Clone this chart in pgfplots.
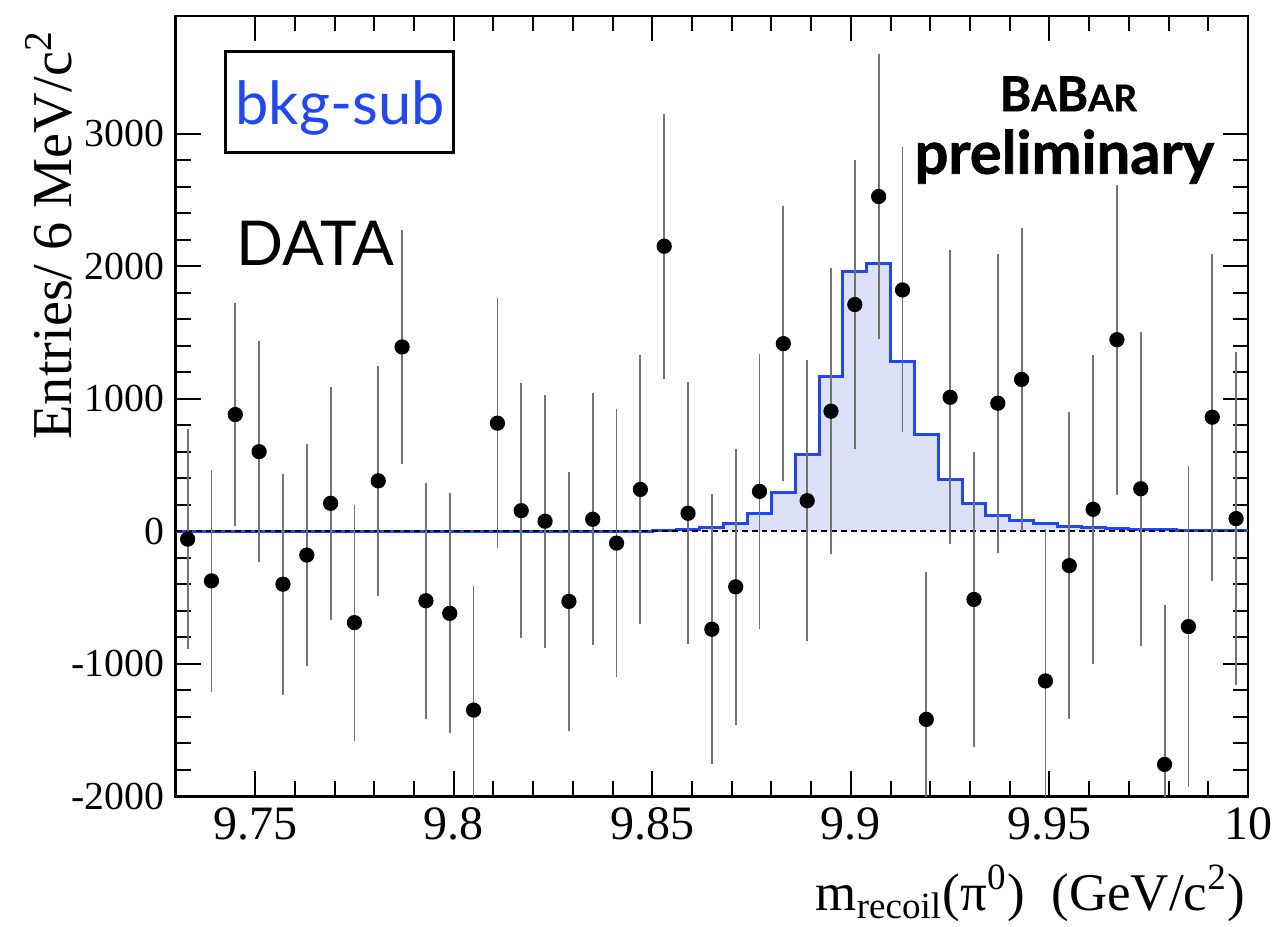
\documentclass[border=0pt]{standalone}
\usepackage{pgfplots}
\pgfplotsset{compat=1.18}
\usepackage{pgfplotstable}
\usepackage{fontspec}
\setmainfont{Liberation Serif}
\newfontfamily\gill{Lato}
\newfontfamily\gillheavy{Lato}[BoldFeatures={FakeBold=1.2}]
\definecolor{histblue}{RGB}{30,70,250}
\definecolor{histfill}{RGB}{220,225,247}

% background-subtracted data: bin centre, entries, error
\pgfplotstableread{
x      y      err
9.733  -60    830
9.739  -375   835
9.745  880    840
9.751  600    835
9.757  -400   835
9.763  -180   840
9.769  210    880
9.775  -690   890
9.781  380    870
9.787  1390   880
9.793  -525   890
9.799  -620   905
9.805  -1350  940
9.811  815    945
9.817  155    960
9.823  75     955
9.829  -530   980
9.835  90     950
9.841  -90    1010
9.847  315    1015
9.853  2150   1000
9.859  135    990
9.865  -740   1020
9.871  -420   1040
9.877  300    1040
9.883  1415   1040
9.889  230    1060
9.895  905    1080
9.901  1710   1090
9.907  2525   1075
9.913  1820   1075
9.919  -1420  1110
9.925  1010   1110
9.931  -515   1110
9.937  965    1130
9.943  1145   1140
9.949  -1130  1150
9.955  -260   1160
9.961  165    1165
9.967  1445   1170
9.973  320    1185
9.979  -1760  1200
9.985  -720   1210
9.991  860    1235
9.997  95     1255
}\datatab

% signal shape: left bin edge, content
\pgfplotstableread{
x      y
9.730  0
9.850  3
9.856  10
9.862  25
9.868  55
9.874  130
9.880  290
9.886  580
9.892  1170
9.898  1960
9.904  2020
9.910  1280
9.916  730
9.922  390
9.928  210
9.934  120
9.940  78
9.946  55
9.952  38
9.958  27
9.964  19
9.970  13
9.976  9
9.982  7
9.988  5
9.994  4
10.000 4
}\histtab

\begin{document}
\begin{tikzpicture}
\begin{axis}[
    width=324pt, height=235.8pt, scale only axis,
    xmin=9.73, xmax=10, ymin=-2000, ymax=3888,
    axis line style={line width=0.8pt},
    xtick={9.75,9.8,9.85,9.9,9.95,10},
    xticklabels={9.75,9.8,9.85,9.9,9.95,10},
    minor x tick num=4,
    ytick={-2000,-1000,0,1000,2000,3000},
    yticklabels={-2000,-1000,0,1000,2000,3000},
    minor y tick num=4,
    major tick length=7.5pt, minor tick length=4.5pt,
    every tick/.style={line width=0.6pt, black},
    x tick label style={font=\fontsize{14.5}{15}\selectfont},
    y tick label style={font=\fontsize{12}{13}\selectfont},
    xlabel={m\textsubscript{recoil}(π\textsuperscript{0})\ \ (GeV/c\textsuperscript{2})},
    ylabel={Entries/ 6 MeV/c\textsuperscript{2}},
    xlabel style={at={(axis description cs:0.998,-0.087)}, anchor=north east,
                  inner sep=0pt, font=\fontsize{16}{17}\selectfont},
    ylabel style={at={(axis description cs:-0.0954,0.982)}, anchor=south east,
                  inner sep=0pt, font=\fontsize{17}{18}\selectfont},
]
% fit shape
\addplot[ybar interval, fill=histfill, draw=none] table {\histtab};
\addplot[const plot, histblue, line width=0.9pt] table {\histtab};
\addplot[black, line width=0.6pt, dash pattern=on 1.8pt off 1.2pt] coordinates {(9.73,0) (10,0)};

% data
\addplot[only marks, mark=*, mark size=2.1pt, black,
         error bars/.cd, y dir=both, y explicit, error mark=none,
         error bar style={line width=0.55pt, black!55}]
    table[x=x, y=y, y error=err] {\datatab};

\draw[line width=0.9pt] (axis description cs:0.0463,0.9542) rectangle (axis description cs:0.2593,0.8244);
\node[anchor=base, text=histblue, inner sep=0pt, font=\gill\fontsize{18}{18}\selectfont]
    at (axis description cs:0.1532,0.8613) {bkg-sub};
\node[anchor=base west, inner sep=0pt, font=\gill\fontsize{18.7}{19}\selectfont]
    at (axis description cs:0.0565,0.6807) {DATA};
\node[anchor=base, inner sep=0pt, font=\gillheavy\bfseries\fontsize{14.5}{15}\selectfont]
    at (axis description cs:0.8324,0.8779) {B{\fontsize{11}{11}\selectfont A}B{\fontsize{11}{11}\selectfont AR}};
\node[anchor=base, inner sep=0pt, font=\gillheavy\bfseries\fontsize{18}{18}\selectfont]
    at (axis description cs:0.8287,0.7977) {preliminary};
\end{axis}
\path (current axis.south west) ++(-53.1pt,-39.3pt);
\path (current axis.north east) ++(7.8pt,4.8pt);
\end{tikzpicture}
\end{document}
